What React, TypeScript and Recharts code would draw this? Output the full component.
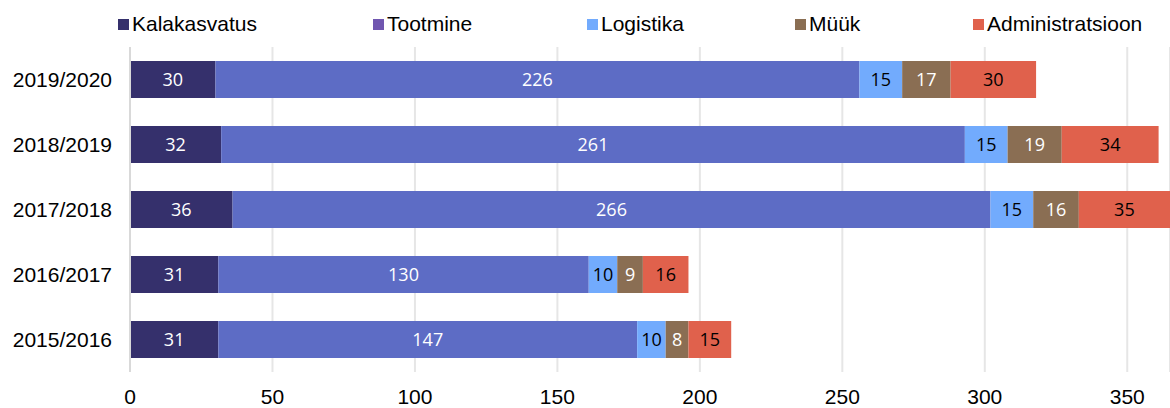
import { BarChart, Bar, XAxis, YAxis, CartesianGrid, LabelList } from 'recharts';

const YEARS = ['2019/2020', '2018/2019', '2017/2018', '2016/2017', '2015/2016'];
const KALAKASVATUS = [30, 32, 36, 31, 31];
const TOOTMINE = [226, 261, 266, 130, 147];
const LOGISTIKA = [15, 15, 15, 10, 10];
const MUUK = [17, 19, 16, 9, 8];
const ADMIN = [30, 34, 35, 16, 15];
const X_TICKS = [0, 50, 100, 150, 200, 250, 300, 350];

const data = YEARS.map((year, i) => ({
  year,
  kalakasvatus: KALAKASVATUS[i],
  tootmine: TOOTMINE[i],
  logistika: LOGISTIKA[i],
  muuk: MUUK[i],
  admin: ADMIN[i],
}));

// bar fill, legend swatch, label colour
const SERIES = [
  { key: 'kalakasvatus', name: 'Kalakasvatus', fill: '#35306c', swatch: '#35306c', text: '#ffffff', x: 118 },
  { key: 'tootmine', name: 'Tootmine', fill: '#5d6cc5', swatch: '#7056b0', text: '#ffffff', x: 373 },
  { key: 'logistika', name: 'Logistika', fill: '#72abfd', swatch: '#72abfd', text: '#000000', x: 587 },
  { key: 'muuk', name: 'Müük', fill: '#8a6e53', swatch: '#8a6e53', text: '#ffffff', x: 795 },
  { key: 'admin', name: 'Administratsioon', fill: '#e0614c', swatch: '#e0614c', text: '#000000', x: 973 },
];

const FONT = 'Liberation Sans, Arial, sans-serif';

function LegendRow() {
  return (
    <div style={{ position: 'absolute', left: 0, top: 0, height: 48, width: 1170 }}>
      {SERIES.map((s) => (
        <div
          key={s.key}
          style={{
            position: 'absolute',
            left: s.x,
            top: 12,
            height: 24,
            display: 'flex',
            alignItems: 'center',
            fontFamily: FONT,
            fontSize: 21,
            lineHeight: '24px',
            color: '#000',
            whiteSpace: 'nowrap',
          }}
        >
          <span style={{ width: 11, height: 11, background: s.swatch, marginRight: 3, display: 'inline-block' }} />
          {s.name}
        </div>
      ))}
    </div>
  );
}

export default function App() {
  return (
    <div style={{ position: 'absolute', left: 0, top: 0, width: 1170, height: 408, background: '#fff', overflow: 'hidden' }}>
      <BarChart
        width={1170}
        height={408}
        data={data}
        layout="vertical"
        barSize={37}
        margin={{ top: 47, right: 0, bottom: 0, left: 0 }}
      >
        <CartesianGrid horizontal={false} stroke="#e6e6e6" strokeWidth={2} />
        <XAxis
          type="number"
          domain={[0, 365]}
          ticks={X_TICKS}
          allowDataOverflow
          axisLine={false}
          tickLine={false}
          tickSize={0}
          tickMargin={17}
          height={36}
          tick={{ fill: '#000', fontSize: 21, fontFamily: FONT }}
        />
        <YAxis
          type="category"
          dataKey="year"
          width={130}
          axisLine={{ stroke: '#d9d9d9', strokeWidth: 2 }}
          tickLine={false}
          tickSize={0}
          tickMargin={18}
          tick={{ fill: '#000', fontSize: 21, fontFamily: FONT }}
        />
        {SERIES.map((s) => (
          <Bar key={s.key} dataKey={s.key} name={s.name} stackId="a" fill={s.fill} isAnimationActive={false}>
            <LabelList
              dataKey={s.key}
              position="center"
              fill={s.text}
              style={{ fontSize: 18, fontFamily: 'Open Sans, sans-serif' }}
            />
          </Bar>
        ))}
      </BarChart>
      <LegendRow />
    </div>
  );
}
